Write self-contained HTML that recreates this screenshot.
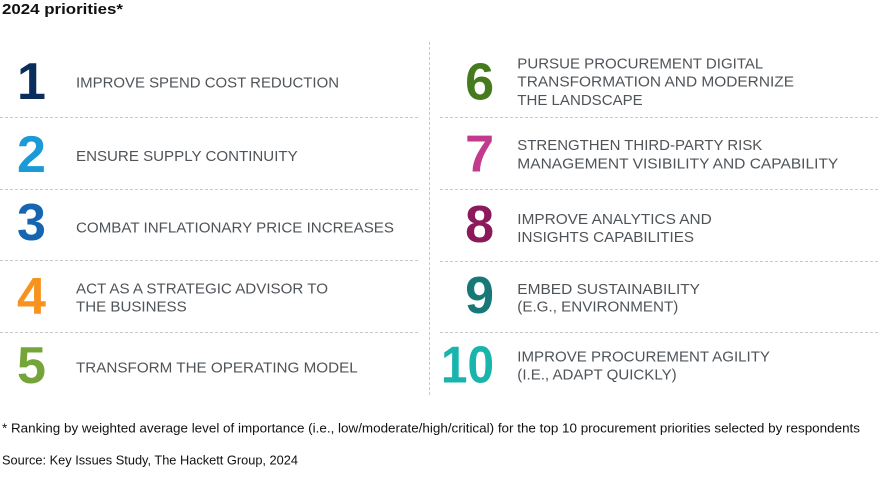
<!DOCTYPE html>
<html>
<head>
<meta charset="utf-8">
<style>
  html, body { margin: 0; padding: 0; background: #ffffff; }
  body { width: 880px; height: 483px; overflow: hidden; }
  svg { display: block; }
  .t { font-family: "Liberation Sans", Arial, sans-serif; font-size: 15px; fill: #4f5459; }
  .n { font-family: "Liberation Sans", Arial, sans-serif; font-size: 52px; font-weight: bold; }
  .f { font-family: "Liberation Sans", Arial, sans-serif; font-size: 12.5px; fill: #111; }
</style>
</head>
<body>
<svg width="880" height="483" viewBox="0 0 880 483" xmlns="http://www.w3.org/2000/svg">
  <rect width="880" height="483" fill="#ffffff"/>

  <!-- Title -->
  <text x="2" y="14" font-family="Liberation Sans, Arial, sans-serif" font-size="15" font-weight="bold" fill="#111" textLength="121" lengthAdjust="spacingAndGlyphs">2024 priorities*</text>

  <!-- Dividers -->
  <g stroke="#c9c9c9" stroke-width="1" stroke-dasharray="3,2" fill="none">
    <line x1="0" y1="117.5" x2="420" y2="117.5"/>
    <line x1="0" y1="189.5" x2="420" y2="189.5"/>
    <line x1="0" y1="260.5" x2="420" y2="260.5"/>
    <line x1="0" y1="332.5" x2="420" y2="332.5"/>
    <line x1="440" y1="117.5" x2="878" y2="117.5"/>
    <line x1="440" y1="189.5" x2="878" y2="189.5"/>
    <line x1="440" y1="261.5" x2="878" y2="261.5"/>
    <line x1="440" y1="332.5" x2="878" y2="332.5"/>
    <line x1="429.5" y1="42" x2="429.5" y2="397"/>
  </g>

  <!-- Left numbers -->
  <text class="n" x="31.5" y="99" text-anchor="middle" fill="#0b2d5b">1</text>
  <text class="n" x="31.5" y="172" text-anchor="middle" fill="#1b9ad7">2</text>
  <text class="n" x="31.5" y="240" text-anchor="middle" fill="#1565b0">3</text>
  <text class="n" x="31.5" y="314" text-anchor="middle" fill="#f7921e">4</text>
  <text class="n" x="31.5" y="383" text-anchor="middle" fill="#74a43a">5</text>

  <!-- Right numbers -->
  <text class="n" x="494" y="99.5" text-anchor="end" fill="#457a1e">6</text>
  <text class="n" x="494" y="171.5" text-anchor="end" fill="#c13a8c">7</text>
  <text class="n" x="494" y="242" text-anchor="end" fill="#8b1a5a">8</text>
  <text class="n" x="494" y="313" text-anchor="end" fill="#187878">9</text>
  <text class="n" x="494" y="382.5" text-anchor="end" fill="#19b5ac" textLength="53" lengthAdjust="spacingAndGlyphs">10</text>

  <!-- Left texts -->
  <text class="t" x="76" y="87.5" textLength="263" lengthAdjust="spacingAndGlyphs">IMPROVE SPEND COST REDUCTION</text>
  <text class="t" x="76" y="161" textLength="221.7" lengthAdjust="spacingAndGlyphs">ENSURE SUPPLY CONTINUITY</text>
  <text class="t" x="76" y="232.7" textLength="318" lengthAdjust="spacingAndGlyphs">COMBAT INFLATIONARY PRICE INCREASES</text>
  <text class="t" x="76" y="293.3" textLength="252" lengthAdjust="spacingAndGlyphs">ACT AS A STRATEGIC ADVISOR TO</text>
  <text class="t" x="76" y="311.3" textLength="110.7" lengthAdjust="spacingAndGlyphs">THE BUSINESS</text>
  <text class="t" x="76" y="372.3" textLength="281.7" lengthAdjust="spacingAndGlyphs">TRANSFORM THE OPERATING MODEL</text>

  <!-- Right texts -->
  <text class="t" x="517.3" y="68.5" textLength="246" lengthAdjust="spacingAndGlyphs">PURSUE PROCUREMENT DIGITAL</text>
  <text class="t" x="517.3" y="86.7" textLength="276.7" lengthAdjust="spacingAndGlyphs">TRANSFORMATION AND MODERNIZE</text>
  <text class="t" x="517.3" y="105" textLength="125.4" lengthAdjust="spacingAndGlyphs">THE LANDSCAPE</text>

  <text class="t" x="517.3" y="150" textLength="245" lengthAdjust="spacingAndGlyphs">STRENGTHEN THIRD-PARTY RISK</text>
  <text class="t" x="517.3" y="168.3" textLength="321" lengthAdjust="spacingAndGlyphs">MANAGEMENT VISIBILITY AND CAPABILITY</text>

  <text class="t" x="517.3" y="224" textLength="194.4" lengthAdjust="spacingAndGlyphs">IMPROVE ANALYTICS AND</text>
  <text class="t" x="517.3" y="242" textLength="176.7" lengthAdjust="spacingAndGlyphs">INSIGHTS CAPABILITIES</text>

  <text class="t" x="517.3" y="294" textLength="182.7" lengthAdjust="spacingAndGlyphs">EMBED SUSTAINABILITY</text>
  <text class="t" x="517.3" y="311.7" textLength="161" lengthAdjust="spacingAndGlyphs">(E.G., ENVIRONMENT)</text>

  <text class="t" x="517.3" y="361.7" textLength="252.7" lengthAdjust="spacingAndGlyphs">IMPROVE PROCUREMENT AGILITY</text>
  <text class="t" x="517.3" y="379.3" textLength="159.4" lengthAdjust="spacingAndGlyphs">(I.E., ADAPT QUICKLY)</text>

  <!-- Footnotes -->
  <text class="f" x="2" y="432.3" textLength="858" lengthAdjust="spacingAndGlyphs">* Ranking by weighted average level of importance (i.e., low/moderate/high/critical) for the top 10 procurement priorities selected by respondents</text>
  <text class="f" x="2" y="464.3" font-size="13" textLength="296" lengthAdjust="spacingAndGlyphs">Source: Key Issues Study, The Hackett Group, 2024</text>
</svg>
</body>
</html>
